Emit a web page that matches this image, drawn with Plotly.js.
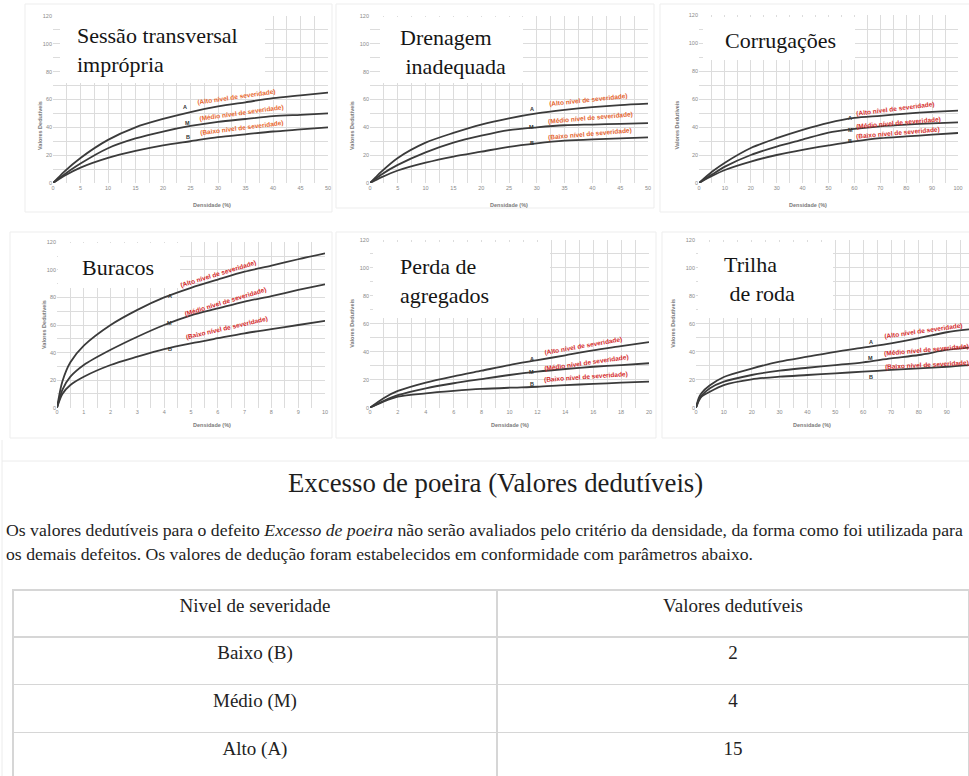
<!DOCTYPE html>
<html>
<head>
<meta charset="utf-8">
<script src="https://cdn.plot.ly/plotly-3.0.1.min.js"></script>
<style>
  html, body { margin: 0; padding: 0; background: #fff; }
  #chart { width: 969px; height: 776px; }
</style>
</head>
<body>
<div id="chart"></div>
<script>
// ---- Deduct-value curves (density % -> deduct value) per severity level ----
// Sessão transversal imprópria
const secaoX = [0, 1, 2, 5, 10, 15, 20, 25, 30, 35, 40, 45, 50];
const secaoA = [0, 4, 8, 18, 31, 40, 46, 51, 55, 58, 61, 63, 65];
const secaoM = [0, 3, 6, 14, 25, 32, 37, 41, 44, 46, 48, 49, 50];
const secaoB = [0, 2.5, 5, 11, 18, 23, 27, 30, 33, 35, 37, 38.5, 40];

// Drenagem inadequada
const drenX = [0, 1, 2, 5, 10, 15, 20, 25, 30, 35, 40, 45, 50];
const drenA = [0, 4, 8, 18, 29, 36, 42, 46.5, 50, 52.5, 54.5, 56, 57];
const drenM = [0, 3, 6, 13, 22, 29, 34, 38, 40, 41.5, 42, 42.5, 43];
const drenB = [0, 2, 4, 9, 14.6, 19, 22.5, 26, 28.5, 30.4, 31.4, 32, 32.8];

// Corrugações
const corrX = [0, 5, 10, 20, 30, 40, 50, 60, 70, 80, 90, 100];
const corrA = [0, 8, 14.5, 25, 32, 38, 43, 46.5, 48, 49.6, 50.8, 51.7];
const corrM = [0, 6, 11.7, 20, 26, 31, 36, 38.6, 40.5, 41.7, 42.6, 43.3];
const corrB = [0, 5, 9.3, 15.3, 20, 23.7, 26.8, 29.7, 32, 33.3, 34.5, 35.7];

// Buracos
const burX = [0, 0.2, 0.5, 1, 2, 3, 4, 5, 6, 7, 8, 9, 10];
const burA = [0, 19, 33, 45, 60, 71, 80, 87, 93, 98.7, 103, 107.7, 112];
const burM = [0, 13, 22.5, 31, 42, 51.5, 60, 67, 72, 77, 81, 85.4, 89.5];
const burB = [0, 10, 16.5, 22.5, 31, 37, 42.5, 46.7, 50.4, 54, 57, 60, 63];

// Perda de agregados
const perdaX = [0, 1, 2, 4, 6, 8, 10, 12, 14, 16, 18, 20];
const perdaA = [0, 7, 12, 18, 22.5, 26.5, 30.5, 34, 37.5, 41, 44, 47];
const perdaM = [0, 5, 9, 13.9, 17.5, 20.5, 23.4, 25.8, 27.7, 29.3, 30.5, 31.8];
const perdaB = [0, 4.5, 7.9, 10.3, 12, 13.4, 14.3, 15, 16.2, 17, 17.9, 18.6];

// Trilha de roda
const trilhaX = [0, 1, 2, 5, 10, 20, 30, 40, 50, 60, 70, 80, 90, 98];
const trilhaA = [0, 7, 10.5, 16, 22, 28, 33, 36.5, 40, 43, 46, 49.7, 54, 56];
const trilhaM = [0, 5.5, 8.6, 13.9, 18.6, 23.4, 26.5, 28.6, 30.5, 32.5, 35.3, 37.7, 41.3, 43];
const trilhaB = [0, 5, 7.9, 11.5, 16.2, 20.3, 22.2, 23.4, 24.6, 25.8, 27, 28.2, 29.3, 30.5];

// Excesso de poeira: fixed deduct values per severity level
const niveis = ['Baixo (B)', 'Médio (M)', 'Alto (A)'];
const valoresPoeira = [2, 4, 15];
const tabelaCabecalho = ['Nivel de severidade', 'Valores dedutíveis'];

const nomesNivel = {
  A: '(Alto nível de severidade)',
  M: '(Médio nível de severidade)',
  B: '(Baixo nível de severidade)'
};

// ---- Page geometry (pixels) ----
const W = 969, H = 776;
const fx = p => p / W;
const fy = p => 1 - p / H;
const GRID = '#dcdcdc';
const CURVE = '#3b3b3b';
const SERIF = 'Liberation Serif';

const panels = [
  { title: 'Sessão transversal<br>imprópria', x: secaoX, A: secaoA, M: secaoM, B: secaoB,
    range: [0, 50], dtick: 5, minor: 2.5, box: [53, 328, 183, 16],
    cover: [60, 13, 265, 83], titleAt: [75, 50.5], red: '#e8672e',
    tags: { A: [24, 54.4, 33.4, 62, -8], M: [24.5, 43.3, 34.3, 50.5, -8], B: [24.5, 33.3, 34.3, 39.3, -7] } },
  { title: 'Drenagem<br>\u00a0inadequada', x: drenX, A: drenA, M: drenM, B: drenB,
    range: [0, 50], dtick: 5, minor: 2.5, box: [370, 648, 183, 16],
    cover: [380, 17, 523, 83], titleAt: [398, 52.5], red: '#e4632e',
    tags: { A: [29.1, 52.9, 39.3, 59.3, -6], M: [29.1, 40.4, 39.6, 46.8, -5], B: [29.1, 29, 39.6, 35.3, -5] } },
  { title: 'Corrugações', x: corrX, A: corrA, M: corrM, B: corrB,
    range: [0, 100], dtick: 10, minor: 5, box: [699, 958, 183, 15],
    cover: [703, 17, 855, 60], titleAt: [723, 40], red: '#d7302c',
    tags: { A: [58.3, 46.5, 75.7, 53.2, -7], M: [58.3, 37.6, 77, 43.2, -5], B: [58.3, 29.7, 77, 35.8, -5] } },
  { title: 'Buracos', x: burX, A: burA, M: burM, B: burB,
    range: [0, 10], dtick: 1, minor: 0.5, box: [57, 325, 407.7, 242.3],
    cover: [58, 243, 180, 288], titleAt: [80, 267], red: '#d42a2a',
    tags: { A: [4.2, 81, 6.02, 97, -17], M: [4.2, 61.5, 6.27, 77, -17], B: [4.2, 42.5, 6.34, 57.5, -13] } },
  { title: 'Perda de<br>agregados', x: perdaX, A: perdaA, M: perdaM, B: perdaB,
    range: [0, 20], dtick: 2, minor: 1, box: [370, 649, 407.7, 240],
    cover: [373, 242, 550, 318], titleAt: [398, 281], red: '#d42a2a',
    tags: { A: [11.6, 34.9, 15.3, 44, -10], M: [11.6, 25.8, 15.5, 32.1, -8], B: [11.6, 16.7, 15.5, 22.3, -4] } },
  { title: 'Trilha<br>\u00a0de roda', x: trilhaX, A: trilhaA, M: trilhaM, B: trilhaB,
    range: [0, 98], dtick: 10, minor: 5, box: [696, 969, 407.7, 240],
    cover: [698, 242, 833, 318], titleAt: [722, 279], red: '#d42a2a',
    tags: { A: [62.8, 46.8, 81.6, 55, -8], M: [62.8, 35.3, 82.8, 41.5, -5], B: [62.8, 22.2, 82.8, 30.5, -3] } }
];

// Faint frames around each graph picture and the text block
const frames = [
  [25, 4, 332, 212], [336, 4, 654, 208], [660, 4, 975, 212],
  [10, 232, 332, 438], [336, 232, 656, 438], [662, 232, 975, 438]
];

const traces = [];
const layout = {
  width: W, height: H,
  margin: { l: 0, r: 0, t: 0, b: 0 },
  paper_bgcolor: '#ffffff',
  plot_bgcolor: 'rgba(0,0,0,0)',
  showlegend: false,
  font: { family: 'Liberation Sans, Arial, sans-serif', color: '#333' },
  shapes: [],
  annotations: []
};

frames.forEach(([x0, y0, x1, y1]) => {
  layout.shapes.push({ type: 'rect', xref: 'paper', yref: 'paper',
    x0: fx(x0), x1: fx(x1), y0: fy(y1), y1: fy(y0),
    line: { color: '#ededed', width: 1 }, fillcolor: 'rgba(0,0,0,0)', layer: 'below' });
});
layout.shapes.push({ type: 'line', xref: 'paper', yref: 'paper',
  x0: fx(2), x1: fx(975), y0: fy(461), y1: fy(461), line: { color: '#ececec', width: 1 } });
layout.shapes.push({ type: 'line', xref: 'paper', yref: 'paper',
  x0: fx(2), x1: fx(2), y0: fy(440), y1: fy(776), line: { color: '#ececec', width: 1 } });

panels.forEach((p, i) => {
  const n = i === 0 ? '' : String(i + 1);
  const xa = 'x' + n, ya = 'y' + n;
  const [l, r, b, t] = p.box;

  layout['xaxis' + n] = {
    domain: [fx(l), fx(r)], range: p.range, anchor: ya,
    tick0: 0, dtick: p.dtick, ticks: '', showline: false, zeroline: false,
    showgrid: true, gridcolor: GRID, gridwidth: 1,
    minor: { tick0: 0, dtick: p.minor, showgrid: true, gridcolor: GRID, gridwidth: 1 },
    tickfont: { size: 5.5, color: '#8a8a8a' }, fixedrange: true
  };
  layout['yaxis' + n] = {
    domain: [fy(b), fy(t)], range: [0, 120], anchor: xa,
    tick0: 0, dtick: 20, ticks: '', showline: false, zeroline: false,
    showgrid: true, gridcolor: GRID, gridwidth: 1,
    minor: { tick0: 0, dtick: 10, showgrid: true, gridcolor: GRID, gridwidth: 1 },
    tickfont: { size: 5.5, color: '#8a8a8a' }, fixedrange: true
  };

  ['A', 'M', 'B'].forEach(k => {
    traces.push({
      type: 'scatter', mode: 'lines', x: p.x, y: p[k], xaxis: xa, yaxis: ya,
      line: { color: CURVE, width: 1.8, shape: 'spline', smoothing: 0.8 },
      hoverinfo: 'skip', cliponaxis: true
    });
    const [lx, ly, tx, ty, ang] = p.tags[k];
    layout.annotations.push({
      xref: xa, yref: ya, x: lx, y: ly, text: '<b>' + k + '</b>', showarrow: false,
      font: { size: 5.5, color: '#333' }
    });
    layout.annotations.push({
      xref: xa, yref: ya, x: tx, y: ty, text: '<b>' + nomesNivel[k] + '</b>', showarrow: false,
      textangle: ang, font: { size: 6.5, color: p.red }
    });
  });

  // white panel-name box over the upper grid
  const [cx0, cy0, cx1, cy1] = p.cover;
  layout.shapes.push({ type: 'rect', xref: 'paper', yref: 'paper',
    x0: fx(cx0), x1: fx(cx1), y0: fy(cy1), y1: fy(cy0),
    line: { width: 0 }, fillcolor: '#ffffff', layer: 'above' });
  layout.annotations.push({
    xref: 'paper', yref: 'paper', x: fx(p.titleAt[0]), y: fy(p.titleAt[1]),
    xanchor: 'left', yanchor: 'middle', align: 'left', showarrow: false,
    text: p.title, font: { family: SERIF, size: 22, color: '#151515' }
  });

  // axis titles
  layout.annotations.push({
    xref: 'paper', yref: 'paper', x: fx((l + r) / 2), y: fy(b + 17),
    showarrow: false, text: '<b>Densidade (%)</b>', font: { size: 5.5, color: '#7a7a7a' }
  });
  layout.annotations.push({
    xref: 'paper', yref: 'paper', x: fx(l - 18), y: fy((b + t) / 2),
    showarrow: false, textangle: -90, text: '<b>Valores Dedutíveis</b>',
    font: { size: 5.5, color: '#7a7a7a' }
  });
});

// Text block for "Excesso de poeira"
layout.annotations.push({
  xref: 'paper', yref: 'paper', x: fx(496), y: fy(483), xanchor: 'center', yanchor: 'middle',
  showarrow: false, text: 'Excesso de poeira (Valores dedutíveis)',
  font: { family: SERIF, size: 26.8, color: '#1e1e1e' }
});
layout.annotations.push({
  xref: 'paper', yref: 'paper', x: fx(4), y: fy(530), xanchor: 'left', yanchor: 'middle',
  showarrow: false,
  text: 'Os valores dedutíveis para o defeito <i>Excesso de poeira</i> não serão avaliados pelo critério da densidade, da forma como foi utilizada para',
  font: { family: SERIF, size: 17.7, color: '#1e1e1e' }
});
layout.annotations.push({
  xref: 'paper', yref: 'paper', x: fx(4), y: fy(554), xanchor: 'left', yanchor: 'middle',
  showarrow: false,
  text: 'os demais defeitos. Os valores de dedução foram estabelecidos em conformidade com parâmetros abaixo.',
  font: { family: SERIF, size: 17.7, color: '#1e1e1e' }
});

traces.push({
  type: 'table',
  domain: { x: [fx(13), 1], y: [0, fy(590)] },
  columnwidth: [484, 472],
  header: {
    values: tabelaCabecalho, height: 47, align: 'center',
    line: { color: '#d6d6d6', width: 1.5 }, fill: { color: '#ffffff' },
    font: { family: SERIF, size: 19, color: '#222' }
  },
  cells: {
    values: [niveis, valoresPoeira], height: 47.7, align: 'center',
    line: { color: '#d6d6d6', width: 1.5 }, fill: { color: '#ffffff' },
    font: { family: SERIF, size: 19, color: '#222' }
  }
});

Plotly.newPlot('chart', traces, layout, { displayModeBar: false, staticPlot: true });
</script>
</body>
</html>
